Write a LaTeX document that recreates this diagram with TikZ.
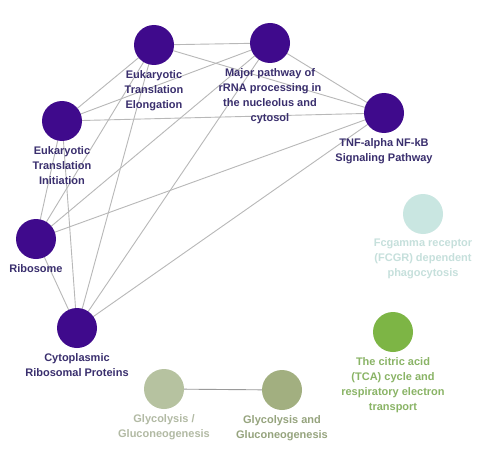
\documentclass[tikz,border=0pt]{standalone}
\usepackage{fontspec}
\setmainfont{Liberation Sans}
\usetikzlibrary{backgrounds}
\definecolor{pur}{HTML}{3F0A8C}
\definecolor{purtxt}{HTML}{3A2F6E}
\definecolor{edge}{HTML}{B8B8B8}
\definecolor{gedge}{HTML}{9A9A9A}
\definecolor{gone}{HTML}{B6C2A0}
\definecolor{gonetxt}{HTML}{B2BAA4}
\definecolor{gtwo}{HTML}{A2AF80}
\definecolor{gtwotxt}{HTML}{96A47E}
\definecolor{tca}{HTML}{7DB545}
\definecolor{tcatxt}{HTML}{8AB466}
\definecolor{fcg}{HTML}{C9E6E1}
\definecolor{fcgtxt}{HTML}{C6E0DC}
\begin{document}
\begin{tikzpicture}[x=1pt,y=-1pt,
  dot/.style={circle, minimum size=40pt, inner sep=0pt, outer sep=0pt},
  lab/.style={font=\bfseries\fontsize{11}{15}\selectfont, align=center, inner sep=0pt, label distance=5pt},
  conn/.style={draw=edge, line width=0.9pt}]
\useasboundingbox (0,0) rectangle (481,468);
\node[dot, fill=pur, label={[lab, text=purtxt]below:Eukaryotic\\Translation\\Elongation}] (E) at (154,45) {};
\node[dot, fill=pur, label={[lab, text=purtxt]below:Major pathway of\\rRNA processing in\\the nucleolus and\\cytosol}] (M) at (270,43) {};
\node[dot, fill=pur, label={[lab, text=purtxt]below:TNF-alpha NF-kB\\Signaling Pathway}] (T) at (384,113) {};
\node[dot, fill=pur, label={[lab, text=purtxt]below:Eukaryotic\\Translation\\Initiation}] (I) at (62,121) {};
\node[dot, fill=pur, label={[lab, text=purtxt]below:Ribosome}] (R) at (36,239) {};
\node[dot, fill=pur, label={[lab, text=purtxt]below:Cytoplasmic\\Ribosomal Proteins}] (C) at (77,328) {};
\node[dot, fill=gone, label={[lab, text=gonetxt]below:Glycolysis /\\Gluconeogenesis}] (G1) at (164,389) {};
\node[dot, fill=gtwo, label={[lab, text=gtwotxt]below:Glycolysis and\\Gluconeogenesis}] (G2) at (282,390) {};
\node[dot, fill=fcg, label={[lab, text=fcgtxt]below:Fcgamma receptor\\(FCGR) dependent\\phagocytosis}] (F) at (423,214) {};
\node[dot, fill=tca, label={[lab, text=tcatxt]below:The citric acid\\(TCA) cycle and\\respiratory electron\\transport}] (TCA) at (393,332) {};
\begin{scope}[on background layer]
\fill[white] (0,0) rectangle (481,468);
\foreach \a/\b in {E/M,E/T,E/I,E/R,E/C,M/T,M/I,M/R,M/C,T/I,T/R,T/C,I/R,I/C,R/C}
  \draw[conn] (\a) -- (\b);
\draw[draw=gedge, line width=0.9pt] (G1) -- (G2);
\end{scope}
\end{tikzpicture}
\end{document}
